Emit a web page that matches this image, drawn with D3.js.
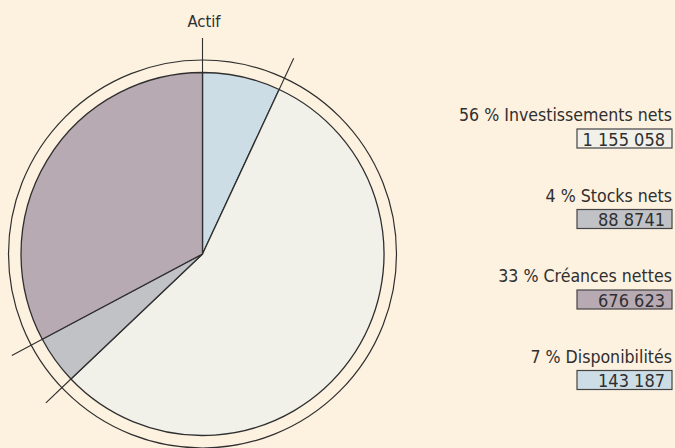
<!DOCTYPE html>
<html><head><meta charset="utf-8">
<script src="https://cdn.jsdelivr.net/npm/d3@7"></script>
<style>
html,body{margin:0;padding:0;background:#fdf1e0;}
svg{display:block;}
text{font-family:"Liberation Sans Narrow","DejaVu Sans Condensed","Liberation Sans",sans-serif;fill:#2f2f2f;}
</style></head>
<body><svg id="c" width="675" height="448"></svg>
<script>
// data (pie order clockwise from top)
const categories = ["Disponibilités", "Investissements nets", "Stocks nets", "Créances nettes"];
const values = [143187, 1155058, 88874, 676623];
const percentLabels = ["7 %", "56 %", "4 %", "33 %"];
const valueLabels = ["143 187", "1 155 058", "88 8741", "676 623"];
const legendOrder = ["Investissements nets", "Stocks nets", "Créances nettes", "Disponibilités"];
const title = "Actif";

const colors = {"Disponibilités":"#cddde6","Investissements nets":"#f1f1ea","Stocks nets":"#c1c2c6","Créances nettes":"#b8aab3"};

const svg = d3.select("#c");
const cx = 202.5, cy = 254, r = 181.5, ringR = 194, tickR = 216;
const g = svg.append("g").attr("transform", `translate(${cx},${cy})`);

const data = categories.map((c,i)=>({cat:c, value:values[i], pct:percentLabels[i], label:valueLabels[i]}));
const arcs = d3.pie().sort(null).value(d=>d.value)(data);
const arc = d3.arc().innerRadius(0).outerRadius(r);

g.append("circle").attr("r", ringR).attr("fill","none").attr("stroke","#2f2f2f").attr("stroke-width",1.2);

g.selectAll("path.slice").data(arcs).join("path")
  .attr("class","slice")
  .attr("d", arc)
  .attr("fill", d=>colors[d.data.cat])
  .attr("stroke","#2f2f2f").attr("stroke-width",1.3).attr("stroke-linejoin","round");

// ticks at slice boundaries
g.selectAll("line.tick").data(arcs).join("line")
  .attr("class","tick")
  .attr("x1", d=>r*Math.sin(d.startAngle)).attr("y1", d=>-r*Math.cos(d.startAngle))
  .attr("x2", d=>tickR*Math.sin(d.startAngle)).attr("y2", d=>-tickR*Math.cos(d.startAngle))
  .attr("stroke","#2f2f2f").attr("stroke-width",1.1);

svg.append("text").attr("x", cx+1.5).attr("y", 27).attr("text-anchor","middle")
  .style("font-size","16.5px").text(title);

// legend
const legendY = d3.scalePoint().domain(legendOrder).range([121, 362.5]);
const right = 672, boxW = 95, boxH = 19;
const leg = svg.selectAll("g.leg").data(legendOrder.map(c=>data.find(d=>d.cat===c))).join("g")
  .attr("class","leg").attr("transform", d=>`translate(0,${legendY(d.cat)})`);
leg.append("text").attr("x", right).attr("y", 0).attr("text-anchor","end")
  .style("font-size","17.6px").text(d=>`${d.pct} ${d.cat}`);
leg.append("rect").attr("x", right-boxW).attr("y", 8).attr("width", boxW).attr("height", boxH)
  .attr("fill", d=>colors[d.cat]).attr("stroke","#444").attr("stroke-width",1.2);
leg.append("text").attr("x", right-7).attr("y", 24.5).attr("text-anchor","end")
  .style("font-size","18px").text(d=>d.label);
</script></body></html>
